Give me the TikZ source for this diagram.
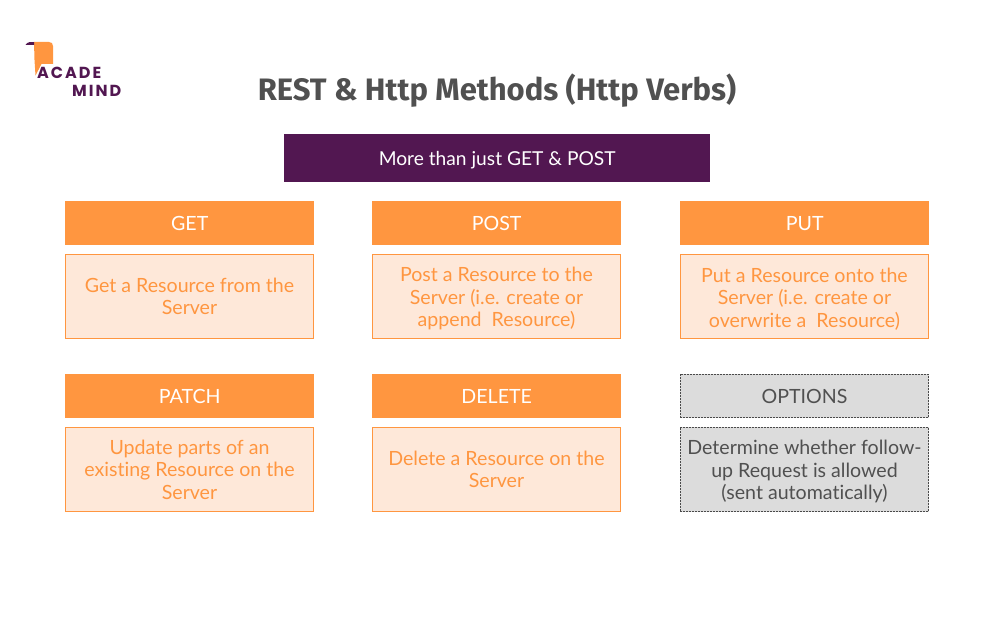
\documentclass[tikz,border=0pt]{standalone}
\usepackage{fontspec}
\setmainfont{Lato}[Ligatures=NoCommon]
\newfontfamily\titlefont{Fira Sans}
\newfontfamily\logofont{Poppins}
\definecolor{orangeM}{HTML}{FF9640}
\definecolor{orangeL}{HTML}{FEE8D9}
\definecolor{purpleM}{HTML}{521751}
\definecolor{greyF}{HTML}{DCDCDC}
\definecolor{greyT}{HTML}{505050}
\definecolor{greyD}{HTML}{4A4A4A}
\tikzset{
  x=1pt,y=-1pt,
  basebox/.style={anchor=north west,inner sep=0pt,align=flush center,text width=246pt,font=\fontsize{19.6}{22.5}\selectfont},
  headbox/.style={basebox,minimum width=249pt,fill=orangeM,text=white,minimum height=44pt},
  bodybox/.style={basebox,minimum width=248.3pt,fill=orangeL,draw=orangeM,line width=0.7pt,text=orangeM,minimum height=84.3pt},
  greyhead/.style={basebox,minimum width=248.3pt,fill=greyF,draw=greyD,dash pattern=on 2pt off 1pt,line width=0.7pt,text=greyT,minimum height=43.3pt},
  greybody/.style={basebox,minimum width=248.3pt,fill=greyF,draw=greyD,dash pattern=on 2pt off 1pt,line width=0.7pt,text=greyT,minimum height=84.3pt},
  bannerbox/.style={anchor=north west,fill=purpleM,text=white,minimum width=426pt,minimum height=48pt,inner sep=0pt,font=\fontsize{19.2}{24}\selectfont},
  titletext/.style={anchor=center,text=greyT,inner sep=0pt,font=\titlefont\bfseries\fontsize{31}{35}\selectfont},
  logotext/.style={anchor=base west,text=purpleM,inner sep=0pt,font=\logofont\bfseries\fontsize{16}{17}\selectfont},
}
\newcommand{\ls}{\hspace{2pt}}
\newcommand{\tl}{\rule{0pt}{19pt}}
\newcommand{\dl}{\rule[-5pt]{0pt}{5pt}}
\begin{document}
\begin{tikzpicture}
\useasboundingbox (0,0) rectangle (996,642);
% logo
\fill[orangeM] (34,42) -- (49,42) .. controls (51.5,42) and (53,43.5) .. (53,46) -- (53,64) -- (41.5,64) -- (35.5,75.5) -- (34.5,60) -- cycle;
\fill[purpleM] (25.5,45) .. controls (27,42) and (31,41.5) .. (34,42) -- (34,45) -- cycle;
\node[logotext] (logoa) at (37,78) {A\ls C\ls A\ls D\ls E};
\node[logotext] (logom) at (72,96) {M\ls I\ls N\ls D};
% title
\node[titletext] (title) at (497,91) {REST \& Http Methods (Http Verbs)};
\node[bannerbox] (banner) at (284,134) {\rule{0pt}{19pt}More than just GET \& POST};
% row 1
\node[headbox] (get) at (65,201) {GET};
\node[bodybox] (getb) at (65,254) {Get a Resource from the\\Server};
\node[headbox] (post) at (372,201) {POST};
\node[bodybox] (postb) at (372,254) {\tl Post a Resource to the\\Server (i.e. create or\\append\ \ Resource)};
\node[headbox] (put) at (680,201) {PUT};
\node[bodybox] (putb) at (680,254) {\tl Put a Resource onto the\\Server (i.e. create or\\overwrite a\ \ Resource)};
% row 2
\node[headbox] (patch) at (65,374) {PATCH};
\node[bodybox] (patchb) at (65,427) {\tl Update parts of an\\existing Resource on the\\Server\dl};
\node[headbox] (delete) at (372,374) {DELETE};
\node[bodybox] (deleteb) at (372,427) {Delete a Resource on the\\Server};
\node[greyhead] (options) at (680,374) {OPTIONS};
\node[greybody] (optionsb) at (680,427) {\tl Determine whether follow-\\up Request is allowed\\(sent automatically)};
\end{tikzpicture}
\end{document}
